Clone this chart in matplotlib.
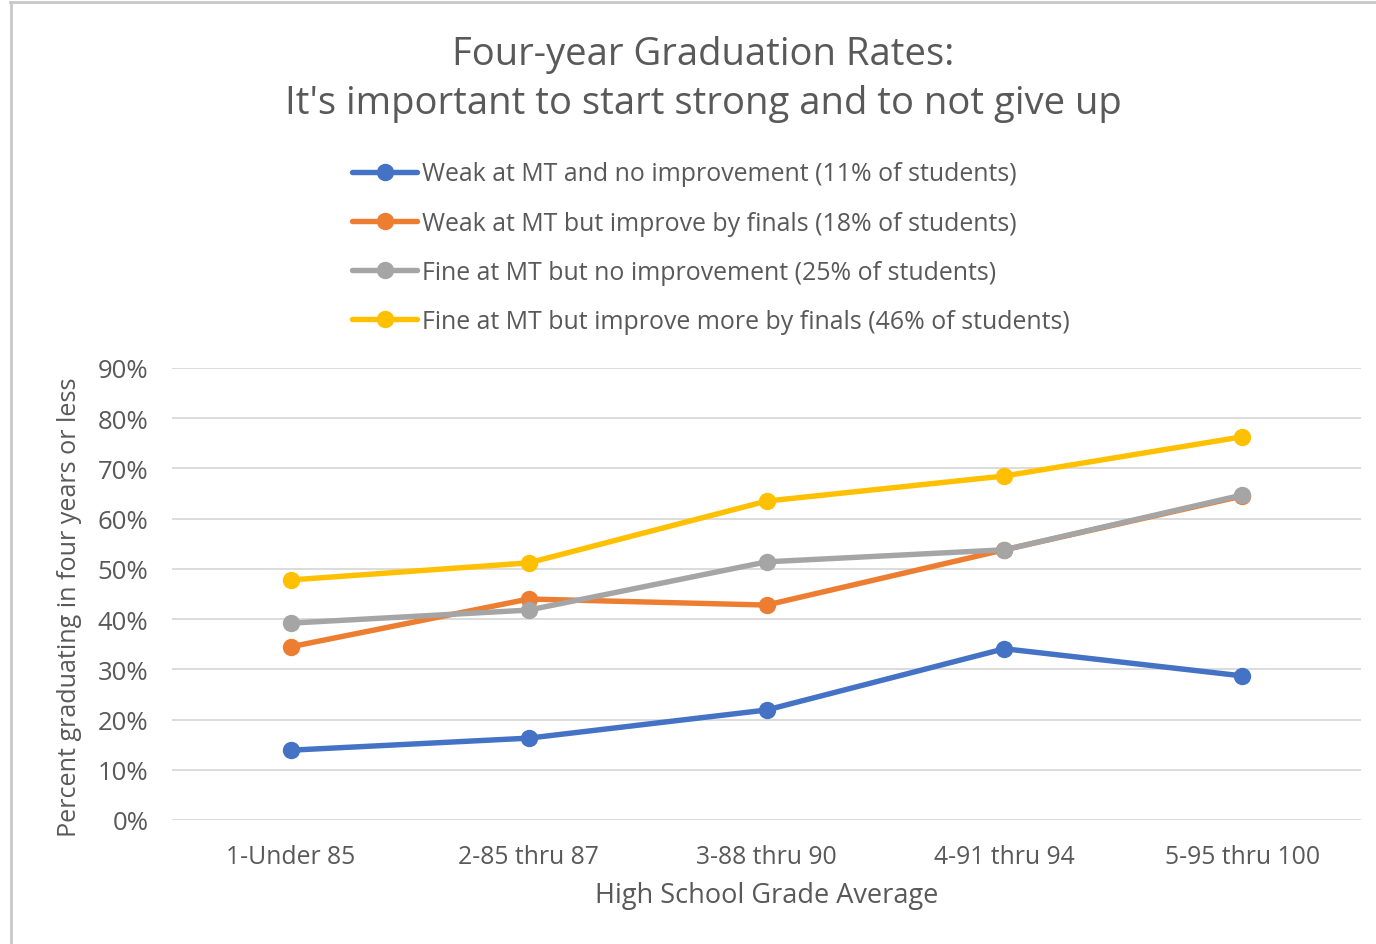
import matplotlib
matplotlib.use("Agg")
import matplotlib.pyplot as plt
from matplotlib.lines import Line2D

categories = ["1-Under 85", "2-85 thru 87", "3-88 thru 90", "4-91 thru 94", "5-95 thru 100"]
weak_no_improve = [0.139, 0.163, 0.219, 0.341, 0.287]
weak_improve = [0.345, 0.440, 0.428, 0.538, 0.645]
fine_no_improve = [0.392, 0.418, 0.514, 0.538, 0.647]
fine_improve_more = [0.478, 0.512, 0.635, 0.685, 0.763]
series_labels = [
    "Weak at MT and no improvement (11% of students)",
    "Weak at MT but improve by finals (18% of students)",
    "Fine at MT but no improvement (25% of students)",
    "Fine at MT but improve more by finals (46% of students)",
]
yticks = [0, 0.1, 0.2, 0.3, 0.4, 0.5, 0.6, 0.7, 0.8, 0.9]
ytick_labels = ["0%", "10%", "20%", "30%", "40%", "50%", "60%", "70%", "80%", "90%"]

colors = ["#4472C4", "#ED7D31", "#A5A5A5", "#FFC000"]
txt = "#595959"
plt.rcParams['font.family'] = ['Open Sans', 'DejaVu Sans']

fig = plt.figure(figsize=(13.76, 9.45), dpi=100)
ax = fig.add_axes([172/1376, 1-821/945, (1361-172)/1376, (821-369)/945])

x = list(range(len(categories)))
lines = []
for vals, c, lab in zip([weak_no_improve, weak_improve, fine_no_improve, fine_improve_more], colors, series_labels):
    ln, = ax.plot(x, vals, color=c, lw=3.9, marker='o', ms=11.5, label=lab, solid_capstyle='round')
    lines.append(ln)

ax.set_xlim(-0.5, 4.5)
ax.set_ylim(0, 0.9)
ax.set_yticks(yticks)
ax.set_yticklabels(ytick_labels)
ax.set_xticks(x)
ax.set_xticklabels(categories)
ax.grid(axis='y', color='#D9D9D9', lw=1.3)
ax.set_axisbelow(True)
for s in ax.spines.values():
    s.set_visible(False)
ax.tick_params(axis='y', length=0, labelsize=18.5, colors=txt, pad=17)
ax.tick_params(axis='x', length=0, labelsize=17.8, colors=txt, pad=17)
ax.set_xlabel("High School Grade Average", fontsize=19.5, color=txt)
ax.xaxis.set_label_coords(0.5, -(882-821)/452)
ax.set_ylabel("Percent graduating in four years or less", fontsize=18.1, color=txt)
ax.yaxis.set_label_coords((82-172)/1189, (821-607)/452)

fig.text(703/1376, 1-55/945, "Four-year Graduation Rates:", ha='center', va='center', fontsize=27.5, color=txt)
fig.text(703/1376, 1-104/945, "It's important to start strong and to not give up", ha='center', va='center', fontsize=27.5, color=txt)

leg = fig.legend(handles=lines, loc='upper left', bbox_to_anchor=(340/1376, 1-150/945),
                 frameon=False, fontsize=17.9, handlelength=2.6, handletextpad=0.2,
                 labelspacing=0.97, borderpad=0, labelcolor=txt)

# screenshot frame lines
fig.add_artist(Line2D([10/1376, 1], [1-3/945, 1-3/945], transform=fig.transFigure, color='#C8C8C8', lw=2))
fig.add_artist(Line2D([11/1376, 11/1376], [0, 1-3/945], transform=fig.transFigure, color='#C8C8C8', lw=2))

fig.savefig("out.png", dpi=100)
